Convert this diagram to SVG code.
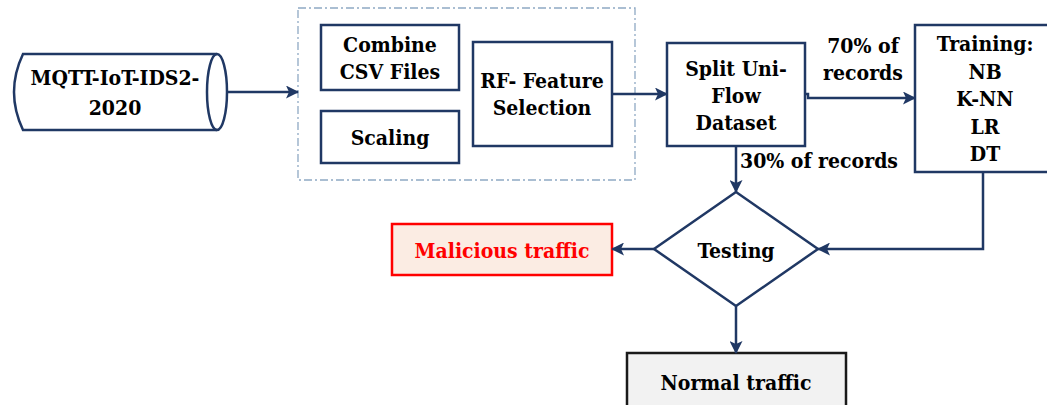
<svg xmlns="http://www.w3.org/2000/svg" width="1047" height="405" viewBox="0 0 1047 405">
<style>
.box{fill:#fff;stroke:#203864;stroke-width:2.5}
.t{font-family:"DejaVu Serif","Liberation Serif",serif;font-stretch:condensed;font-weight:bold;font-size:21px;fill:#000;text-anchor:middle;dominant-baseline:central}
.c{fill:none;stroke:#203864;stroke-width:2.5}
</style>
<defs>
<marker id="ah" markerWidth="13" markerHeight="13" refX="12" refY="6.5" orient="auto" markerUnits="userSpaceOnUse">
<path d="M0,0 L13,6.5 L0,13 L3,6.5 Z" fill="#203864"/>
</marker>
</defs>
<rect width="1047" height="405" fill="#fff"/>
<g id="container">
<rect x="298" y="8" width="337" height="172" fill="none" stroke="#8fa9c4" stroke-width="1.3" stroke-dasharray="8,3,2,3"/>
</g>
<g id="dataset">
<path class="box" d="M23,54 L217,54 A10,38 0 0 1 217,130 L23,130 Q5,92 23,54 Z"/>
<path class="c" d="M217,54 A10,38 0 0 0 217,130"/>
<text class="t" x="115" y="77">MQTT-IoT-IDS2-</text>
<text class="t" x="115" y="107">2020</text>
</g>
<g id="combine">
<rect class="box" x="321" y="25" width="138" height="65"/>
<text class="t" x="390" y="44">Combine</text>
<text class="t" x="390" y="71">CSV Files</text>
</g>
<g id="scaling">
<rect class="box" x="321" y="111" width="138" height="52"/>
<text class="t" x="390" y="137">Scaling</text>
</g>
<g id="rf">
<rect class="box" x="473" y="42" width="139" height="104"/>
<text class="t" x="542" y="80">RF- Feature</text>
<text class="t" x="542" y="107">Selection</text>
</g>
<g id="split">
<rect class="box" x="667" y="43" width="138" height="103"/>
<text class="t" x="736" y="68">Split Uni-</text>
<text class="t" x="736" y="95">Flow</text>
<text class="t" x="736" y="122">Dataset</text>
</g>
<g id="training">
<rect class="box" x="915" y="25" width="142" height="147"/>
<text class="t" x="985" y="43">Training:</text>
<text class="t" x="985" y="71">NB</text>
<text class="t" x="985" y="98">K-NN</text>
<text class="t" x="985" y="126">LR</text>
<text class="t" x="985" y="153">DT</text>
</g>
<g id="testing">
<polygon class="box" points="736,192 818,249 736,306 654,249"/>
<text class="t" x="736" y="250">Testing</text>
</g>
<g id="malicious">
<rect x="392" y="224" width="220" height="51" fill="#fbece3" stroke="#ff0000" stroke-width="2.5"/>
<text class="t" x="502" y="250" style="fill:#ff0000">Malicious traffic</text>
</g>
<g id="normal">
<rect x="627" y="353" width="219" height="60" fill="#f2f2f2" stroke="#1a1a1a" stroke-width="2.5"/>
<text class="t" x="736" y="382">Normal traffic</text>
</g>
<g id="connectors">
<line class="c" x1="227" y1="92" x2="298" y2="92" marker-end="url(#ah)"/>
<line class="c" x1="612" y1="94" x2="667" y2="94" marker-end="url(#ah)"/>
<polyline class="c" points="805,94 808,94 808,98 915,98" marker-end="url(#ah)"/>
<line class="c" x1="736" y1="146" x2="736" y2="192" marker-end="url(#ah)"/>
<polyline class="c" points="983,172 983,249 818,249" marker-end="url(#ah)"/>
<line class="c" x1="654" y1="249" x2="612" y2="249" marker-end="url(#ah)"/>
<line class="c" x1="736" y1="306" x2="736" y2="353" marker-end="url(#ah)"/>
<text class="t" x="863" y="45">70% of</text>
<text class="t" x="863" y="72">records</text>
<text class="t" x="740" y="160" style="text-anchor:start">30% of records</text>
</g>
</svg>
